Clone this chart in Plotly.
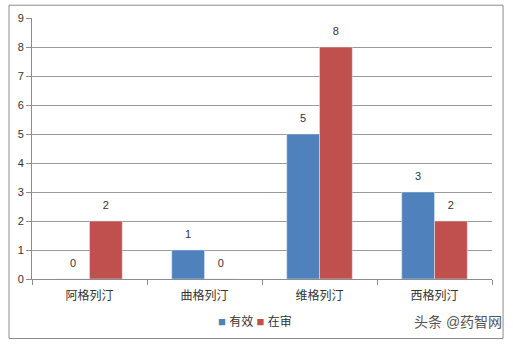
import plotly.graph_objects as go

categories = ["阿格列汀", "曲格列汀", "维格列汀", "西格列汀"]
youxiao = [0, 1, 5, 3]
zaishen = [2, 0, 8, 2]
yticks = list(range(0, 10))
series_names = ["有效", "在审"]
colors = ["#4F81BD", "#C0504D"]

FONT = "Liberation Sans, Noto Sans CJK SC, sans-serif"

fig = go.Figure()
for name, vals, col in zip(series_names, [youxiao, zaishen], colors):
    fig.add_trace(go.Bar(x=categories, y=vals, name=name, marker_color=col))
for name, vals in zip(series_names, [youxiao, zaishen]):
    fig.add_trace(go.Scatter(x=categories, y=vals, mode="markers+text", text=vals,
                             textposition="top center", cliponaxis=False,
                             marker=dict(size=14, color="rgba(0,0,0,0)"),
                             textfont=dict(size=11, color="#333333"),
                             hoverinfo="skip", showlegend=False))

legend_text = " ".join(
    f"<span style='color:{c};font-size:13px'>■</span> {n}" for n, c in zip(series_names, colors))

fig.update_layout(
    width=513, height=346,
    margin=dict(l=32, r=21, t=16, b=67),
    paper_bgcolor="white", plot_bgcolor="white",
    font=dict(family=FONT, size=11, color="#333333"),
    barmode="group", bargap=0.43, bargroupgap=0,
    scattermode="group", scattergap=0.43,
    showlegend=False,
    xaxis=dict(type="category", tickson="boundaries", ticks="outside", ticklen=5,
               tickcolor="#8c8c8c", showline=True, linecolor="#8c8c8c", linewidth=1,
               showgrid=False, tickfont=dict(size=12, color="#333333"),
               ticklabelstandoff=6),
    yaxis=dict(range=[0, 9], tickvals=yticks, ticks="outside", ticklen=5,
               tickcolor="#8c8c8c", showline=True, linecolor="#8c8c8c", linewidth=1,
               showgrid=True, gridcolor="#9a9a9a", gridwidth=1, zeroline=False,
               tickfont=dict(size=11, color="#333333")),
    shapes=[dict(type="rect", xref="paper", yref="paper",
                 x0=-0.05, x1=1.024, y0=-0.228, y1=1.049,
                 line=dict(color="#8c8c8c", width=1), fillcolor="rgba(0,0,0,0)")],
    annotations=[
        dict(text=legend_text, xref="paper", yref="paper",
             x=0.485, xanchor="center", y=-0.163, yanchor="middle",
             showarrow=False, font=dict(size=12, color="#333333")),
        dict(text="头条 @药智网", xref="paper", yref="paper",
             x=1.026, xanchor="right", y=-0.163, yanchor="middle",
             showarrow=False, font=dict(size=14, color="#555555")),
    ],
)
fig.write_html("out.html")
